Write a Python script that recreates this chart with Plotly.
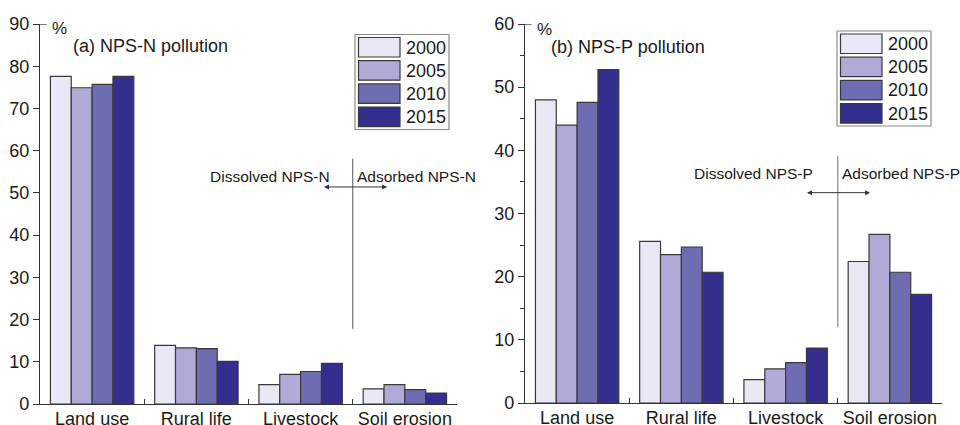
import plotly.graph_objects as go

categories = ["Land use", "Rural life", "Livestock", "Soil erosion"]
years = ["2000", "2005", "2010", "2015"]
colors = ["#E9E9F5", "#B0ABD6", "#6E6DB1", "#342F8F"]

# (a) NPS-N pollution, %
n_2000 = [77.6, 13.9, 4.6, 3.6]
n_2005 = [74.9, 13.3, 7.0, 4.6]
n_2010 = [75.7, 13.1, 7.7, 3.4]
n_2015 = [77.6, 10.1, 9.6, 2.6]

# (b) NPS-P pollution, %
p_2000 = [48.0, 25.6, 3.7, 22.4]
p_2005 = [44.0, 23.5, 5.4, 26.7]
p_2010 = [47.6, 24.7, 6.4, 20.7]
p_2015 = [52.8, 20.7, 8.7, 17.2]

n_series = [n_2000, n_2005, n_2010, n_2015]
p_series = [p_2000, p_2005, p_2010, p_2015]

W, H = 960, 425
FONT = "Liberation Sans, Arial, sans-serif"
TXT = "#1a1a1a"


def px(x):
    return x / W


def py(y):
    return 1 - y / H


fig = go.Figure()
for yr, col, vals in zip(years, colors, n_series):
    fig.add_trace(go.Bar(x=categories, y=vals, name=yr, xaxis="x", yaxis="y",
                         marker=dict(color=col, line=dict(color="#3a3a3a", width=1.2)),
                         showlegend=False))
for yr, col, vals in zip(years, colors, p_series):
    fig.add_trace(go.Bar(x=categories, y=vals, name=yr, xaxis="x2", yaxis="y2",
                         marker=dict(color=col, line=dict(color="#3a3a3a", width=1.2)),
                         showlegend=False))

xcommon = dict(type="category", range=[-0.5, 3.5], showline=True, linecolor="#333",
               linewidth=1.3, ticks="inside", tickson="boundaries", ticklen=5,
               tickcolor="#333", tickfont=dict(size=18, color=TXT, family=FONT),
               showgrid=False, zeroline=False, fixedrange=True, automargin=False,
               ticklabelstandoff=-2)
ycommon = dict(showline=True, linecolor="#333", linewidth=1.3, ticks="outside",
               ticklen=6, tickcolor="#333", tickfont=dict(size=18, color=TXT, family=FONT),
               showgrid=False, zeroline=False, fixedrange=True, automargin=False)

fig.update_layout(
    width=W, height=H,
    margin=dict(l=0, r=0, t=0, b=0, autoexpand=False),
    paper_bgcolor="white", plot_bgcolor="white",
    barmode="group", bargap=0.2, bargroupgap=0,
    font=dict(family=FONT, color=TXT),
    xaxis=dict(domain=[px(40), px(457)], anchor="y", **xcommon),
    xaxis2=dict(domain=[px(525), px(942)], anchor="y2", **xcommon),
    yaxis=dict(domain=[py(404), py(24)], anchor="x", range=[0, 90],
               tickvals=list(range(0, 91, 10)), **ycommon),
    yaxis2=dict(domain=[py(403), py(24)], anchor="x2", range=[0, 60],
                tickvals=list(range(0, 61, 10)),
                minor=dict(tickvals=list(range(5, 60, 10)), ticks="outside", ticklen=4,
                           tickcolor="#333"),
                **ycommon),
)

shapes = []
ann = []

# top tick marks pointing right
shapes.append(dict(type="line", xref="x domain", yref="y", x0=0, x1=0.016, y0=90, y1=90,
                   line=dict(color="#333", width=1.3)))
shapes.append(dict(type="line", xref="x2 domain", yref="y2", x0=0, x1=0.016, y0=60, y1=60,
                   line=dict(color="#333", width=1.3)))

# panel titles
ann.append(dict(text="%", xref="paper", yref="paper", x=px(50), y=py(28), xanchor="left",
                yanchor="middle", showarrow=False, font=dict(size=17, family=FONT, color=TXT)))
ann.append(dict(text="(a) NPS-N pollution", xref="paper", yref="paper", x=px(71), y=py(46),
                xanchor="left", yanchor="middle", showarrow=False,
                font=dict(size=18, family=FONT, color=TXT)))
ann.append(dict(text="%", xref="paper", yref="paper", x=px(535), y=py(29), xanchor="left",
                yanchor="middle", showarrow=False, font=dict(size=17, family=FONT, color=TXT)))
ann.append(dict(text="(b) NPS-P pollution", xref="paper", yref="paper", x=px(549), y=py(47),
                xanchor="left", yanchor="middle", showarrow=False,
                font=dict(size=18, family=FONT, color=TXT)))

# divider lines and arrows
shapes.append(dict(type="line", xref="x", yref="y", x0=2.5, x1=2.5, y0=17.8, y1=58.1,
                   line=dict(color="#555", width=1)))
shapes.append(dict(type="line", xref="x2", yref="y2", x0=2.5, x1=2.5, y0=12.0, y1=39.1,
                   line=dict(color="#888", width=1.2)))

ann.append(dict(x=2.83, y=51.4, ax=2.21, ay=51.4, xref="x", yref="y", axref="x", ayref="y",
                text="", showarrow=True, arrowhead=2, startarrowhead=2, arrowside="end+start",
                arrowsize=1, arrowwidth=1, arrowcolor="#333"))
ann.append(dict(x=2.81, y=33.3, ax=2.19, ay=33.3, xref="x2", yref="y2", axref="x2", ayref="y2",
                text="", showarrow=True, arrowhead=2, startarrowhead=2, arrowside="end+start",
                arrowsize=1, arrowwidth=1, arrowcolor="#333"))

ann.append(dict(text="Dissolved NPS-N", xref="x", yref="y", x=1.71, y=53.8, showarrow=False,
                font=dict(size=15.5, family=FONT, color=TXT)))
ann.append(dict(text="Adsorbed NPS-N", xref="x", yref="y", x=3.11, y=53.8, showarrow=False,
                font=dict(size=15.5, family=FONT, color=TXT)))
ann.append(dict(text="Dissolved NPS-P", xref="x2", yref="y2", x=1.69, y=36.4, showarrow=False,
                font=dict(size=15.5, family=FONT, color=TXT)))
ann.append(dict(text="Adsorbed NPS-P", xref="x2", yref="y2", x=3.11, y=36.4, showarrow=False,
                font=dict(size=15.5, family=FONT, color=TXT)))


# custom legends (large swatches as in the reference)
def add_legend(x0, y0):
    shapes.append(dict(type="rect", xref="paper", yref="paper", x0=px(x0), x1=px(x0 + 94),
                       y0=py(y0), y1=py(y0 + 95), line=dict(color="#8a8a8a", width=1.2),
                       fillcolor="white", layer="above"))
    for i, (yr, col) in enumerate(zip(years, colors)):
        top = y0 + 3 + i * 23.2
        shapes.append(dict(type="rect", xref="paper", yref="paper", x0=px(x0 + 3.5),
                           x1=px(x0 + 45), y0=py(top), y1=py(top + 19.5),
                           line=dict(color="#3a3a3a", width=1.2), fillcolor=col, layer="above"))
        ann.append(dict(text=yr, xref="paper", yref="paper", x=px(x0 + 49), y=py(top + 10),
                        xanchor="left", yanchor="middle", showarrow=False,
                        font=dict(size=18, family=FONT, color=TXT)))


add_legend(355, 34.5)
add_legend(837, 31)

fig.update_layout(shapes=shapes, annotations=ann)
fig.write_html("out.html")
